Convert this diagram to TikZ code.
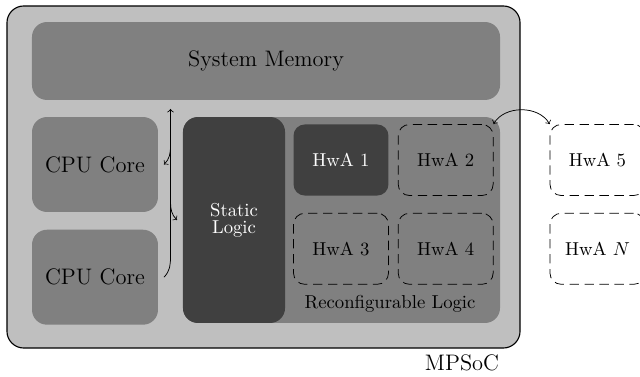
\documentclass[tikz,border=0pt]{standalone}
\usepackage{tikz}
\usetikzlibrary{arrows, positioning, calc}

\begin{document}
\begin{tikzpicture}[x=0.535pt, y=-0.535pt]
	\tikzset {>=to, node distance=9.1pt and 4.8pt,
		chip/.style={rectangle, rounded corners=9pt, draw=black, semithick, fill=gray!50, minimum width=274.5pt, minimum height=183pt},
		block/.style={rectangle, rounded corners=8pt, fill=gray},
		hwa/.style={rectangle, rounded corners=6pt, minimum width=50.8pt, minimum height=38pt},
		slot/.style={hwa, draw, dash pattern=on 5pt off 3pt},
		loaded/.style={hwa, fill=darkgray, text=white}}

	\useasboundingbox (0,0) rectangle (640,377);

	\node[chip] (mpsoc) at (263.5,177) {};
	\node[below left=0pt and 8pt of mpsoc.south east, font=\large] (mpsoclabel) {MPSoC};

	\node[block, minimum width=250.4pt, minimum height=41.7pt, font=\large] (mem) at (266,61) {System Memory};
	\node[block, minimum width=67.4pt, minimum height=50.8pt, font=\large] (cpu1) at (95,164.5) {CPU Core};
	\node[block, minimum width=67.4pt, minimum height=50.8pt, font=\large, below=of cpu1] (cpu2) {CPU Core};

	\node[block, minimum width=169.6pt, minimum height=110.2pt] (reconf) at (341.5,220) {};
	\node[block, fill=darkgray, text=white, align=center, minimum width=54.6pt, minimum height=110.2pt] (static) at (234,220) {Static\\[-3pt]Logic};
	\node (rllabel) at (390,304) {Reconfigurable Logic};

	\node[loaded] (hwa1) at (341,160) {HwA 1};
	\node[slot, right=of hwa1] (hwa2) {HwA 2};
	\node[slot, below=of hwa1] (hwa3) {HwA 3};
	\node[slot, below=of hwa2] (hwa4) {HwA 4};
	\node[slot, right=30pt of hwa2] (hwa5) {HwA 5};
	\node[slot, below=of hwa5] (hwan) {HwA $N$};

	% bus between memory, cores and static logic
	\coordinate (bustop) at (170.5,109);
	\coordinate (bus1) at (170.5,146);
	\coordinate (bus2) at (170.5,202);
	\coordinate (bus3) at (170.5,256);

	\draw[<-] (bustop) -- (bus3) to[out=-90, in=45] ([xshift=3pt]cpu2.east);
	\draw[->] (bus1) to[out=-90, in=45] ([xshift=3pt]cpu1.east);
	\draw[->] (bus2) to[out=-90, in=135] ([xshift=-3pt]static.west);

	\draw[<->] (hwa2.north east) to[out=60, in=120] (hwa5.north west);
\end{tikzpicture}
\end{document}
